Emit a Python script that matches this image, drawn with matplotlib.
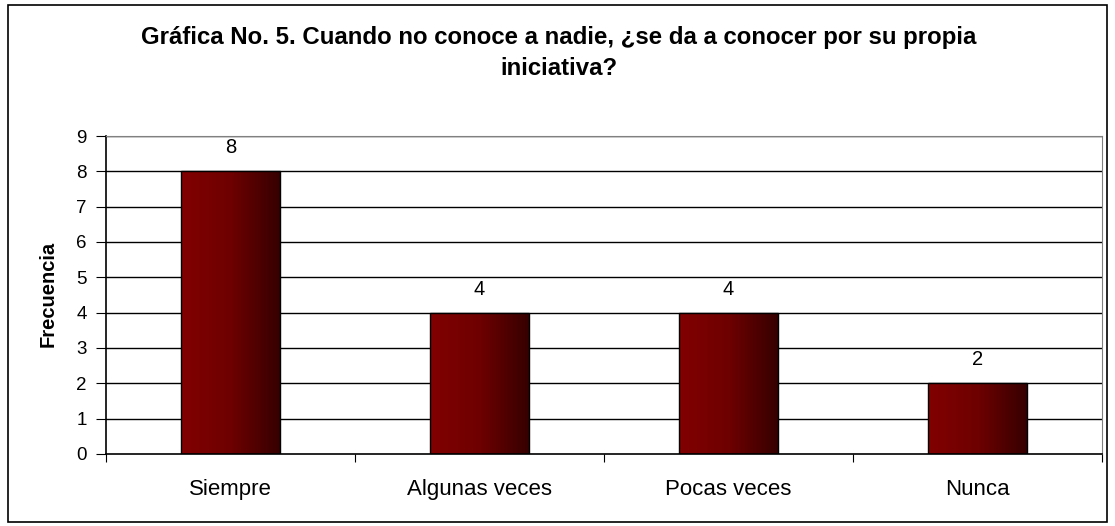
import matplotlib
matplotlib.use("Agg")
import matplotlib.pyplot as plt
import numpy as np
from matplotlib.patches import Rectangle

categories = ["Siempre", "Algunas veces", "Pocas veces", "Nunca"]
values = [8, 4, 4, 2]
yticks = list(range(0, 10))
title_lines = ["Gráfica No. 5. Cuando no conoce a nadie, ¿se da a conocer por su propia",
               "iniciativa?"]
ylabel = "Frecuencia"

plt.rcParams['font.family'] = ['Liberation Sans', 'DejaVu Sans']

W, H = 1115, 526
fig = plt.figure(figsize=(W / 100, H / 100), dpi=100)
# outer border
fig.patches.append(Rectangle((8 / W, 4 / H), 1099 / W, 517 / H, transform=fig.transFigure,
                             fill=False, edgecolor='black', linewidth=1.2))

ax = fig.add_axes([106 / W, (H - 454) / H, (1102 - 106) / W, (454 - 136) / H])
x = np.arange(len(categories))
width = 0.4
for yv in yticks[1:]:
    ax.axhline(yv, color='black', linewidth=1.0, zorder=1)

cmap = matplotlib.colors.LinearSegmentedColormap.from_list('br', ['#820000', '#6e0000', '#350000'])
grad = np.linspace(0, 1, 256).reshape(1, -1)
bars = ax.bar(x, values, width=width, facecolor='none', edgecolor='black', linewidth=1.0, zorder=3)
for b in bars:
    x0, y0, w, h = b.get_x(), b.get_y(), b.get_width(), b.get_height()
    im = ax.imshow(grad, cmap=cmap, extent=[x0, x0 + w, y0, y0 + h], aspect='auto', zorder=2)
    im.set_clip_path(b)
    ax.annotate(str(int(h)), (x0 + w / 2, h), xytext=(0, 13), textcoords='offset points',
                ha='center', va='baseline', fontsize=14.5)
ax.set_xlim(-0.5, len(categories) - 0.5)
ax.set_ylim(0, 9)
ax.set_yticks(yticks)

ax.set_xticks(np.arange(-0.5, len(categories), 1.0))
ax.set_xticklabels([])
ax.set_xticks(x, minor=True)
ax.set_xticklabels(categories, minor=True, fontsize=16)
ax.tick_params(axis='x', which='minor', length=0, pad=18)
ax.tick_params(axis='x', which='major', length=6, direction='out', color='black')
ax.tick_params(axis='y', length=7, direction='out', labelsize=13.5, pad=7)

for s in ['top', 'right']:
    ax.spines[s].set_color('#808080')
ax.spines['left'].set_linewidth(1.2)
ax.spines['bottom'].set_linewidth(1.2)

ax.set_ylabel(ylabel, fontsize=14.5, fontweight='bold')
ax.yaxis.set_label_coords(58 / W, 1 - 294 / H, transform=fig.transFigure)

fig.text(559 / W, 1 - 44 / H, title_lines[0], ha='center', va='baseline', fontsize=17.3, fontweight='bold')
fig.text(559 / W, 1 - 75 / H, title_lines[1], ha='center', va='baseline', fontsize=17.3, fontweight='bold')
fig.savefig("out.png", dpi=100)
